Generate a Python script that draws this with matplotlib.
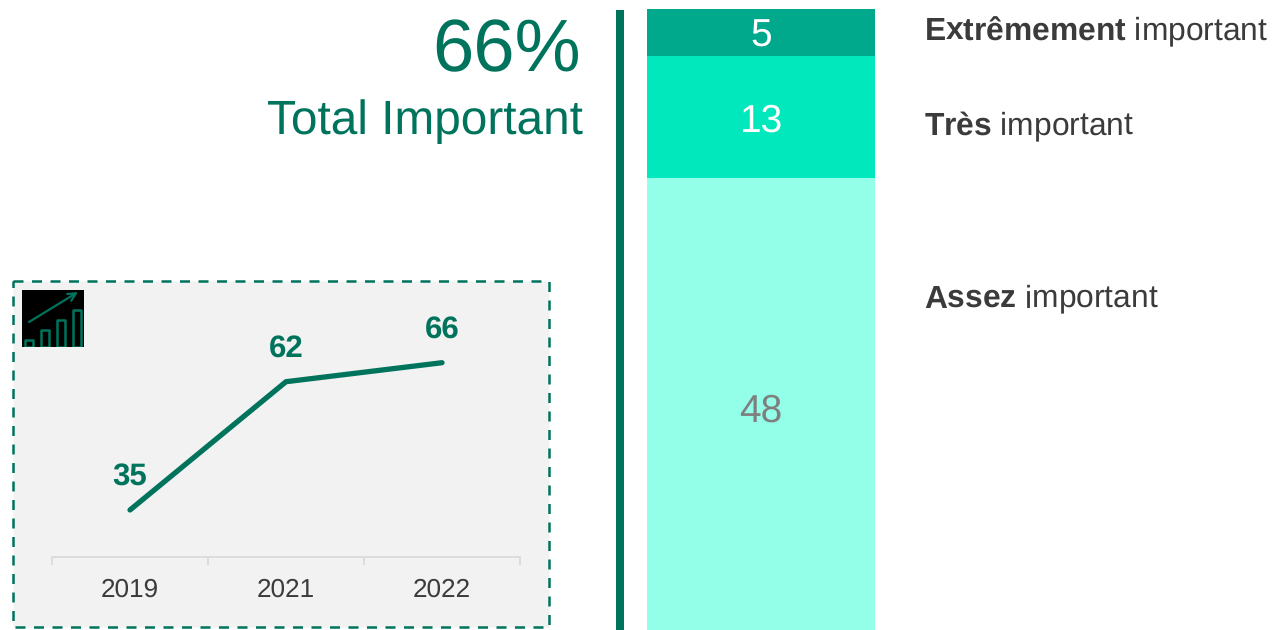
import matplotlib
matplotlib.use('Agg')
import matplotlib.pyplot as plt
from matplotlib.patches import Rectangle

plt.rcParams['font.family'] = 'Liberation Sans'
plt.rcParams['text.hinting'] = 'none'
# bold run inside a label shares its baseline through mathtext
plt.rcParams['mathtext.fontset'] = 'custom'
plt.rcParams['mathtext.bf'] = 'Liberation Sans:bold'
plt.rcParams['mathtext.rm'] = 'Liberation Sans'

W, H = 1276, 630
GREEN = '#00735C'
DARK = '#3B3B3B'

years = ['2019', '2021', '2022']
trend = [35, 62, 66]

levels = ['Assez', 'Très', 'Extrêmement']
level_values = [48, 13, 5]
level_colors = ['#93FFE8', '#00E8BC', '#00A88C']
level_text_colors = ['#7F7F7F', 'white', 'white']
level_label_y = [307, 135, 40]
level_text_shift = [-0.3, 0, 0]

icon_bars = [0.7, 1.7, 2.7, 3.7]


# axes from pixel box, y counted from the top
def px_axes(fig, x0, y0, x1, y1, **kw):
    return fig.add_axes([x0 / W, 1 - y1 / H, (x1 - x0) / W, (y1 - y0) / H], **kw)


fig = plt.figure(figsize=(W / 100, H / 100), dpi=100)
bg = px_axes(fig, 0, 0, W, H)
bg.set_xlim(0, W)
bg.set_ylim(H, 0)
bg.axis('off')

# headline
bg.text(581, 71, '66%', fontsize=53.5, color=GREEN, ha='right', va='baseline')
bg.text(583, 134, 'Total Important', fontsize=34.4, color=GREEN, ha='right', va='baseline')

# dashed panel and divider
bg.add_patch(Rectangle((13, 281), 536, 346, facecolor='#F2F2F2', edgecolor=GREEN,
                       lw=1.8, linestyle=(0, (4, 3.4))))
bg.add_patch(Rectangle((616, 10), 8, 620, facecolor=GREEN, edgecolor='none'))

# trend line
ax = px_axes(fig, 52, 300, 520, 557)
ax.patch.set_alpha(0)
x = list(range(len(years)))
ax.plot(x, trend, color=GREEN, lw=3.8, solid_capstyle='round', solid_joinstyle='miter')
ax.set_xlim(-0.5, 2.5)
ax.set_ylim(25.1, 79.2)
for i, v in zip(x, trend):
    ax.annotate(str(v), (i, v), xytext=(0, 13.5), textcoords='offset points', ha='center',
                va='bottom', fontsize=22.5, fontweight='bold', color=GREEN)
for side in ['top', 'left', 'right']:
    ax.spines[side].set_visible(False)
ax.spines['bottom'].set_color('#DCDCDC')
ax.spines['bottom'].set_linewidth(1.4)
ax.set_yticks([])
ax.set_xticks([-0.5, 0.5, 1.5, 2.5])
ax.set_xticklabels([])
ax.tick_params(axis='x', direction='out', length=6, width=1.4, color='#DCDCDC')
ax.set_xticks(x, minor=True)
ax.set_xticklabels(years, minor=True, fontsize=18.8, color=DARK)
ax.tick_params(axis='x', which='minor', length=0, pad=15)

# little growth icon
icon = px_axes(fig, 22, 290, 84, 347)
icon.set_facecolor('black')
icon.bar([i + 0.44 for i in range(len(icon_bars))], icon_bars, width=0.5, facecolor='none',
         edgecolor=GREEN, lw=1.8, joinstyle='round')
icon.annotate('', xy=(3.5, 5.5), xytext=(0.44, 2.5),
              arrowprops=dict(arrowstyle='->', color=GREEN, lw=1.6, mutation_scale=14,
                              shrinkA=0, shrinkB=0))
icon.set_xlim(0, 3.875)
icon.set_ylim(0, 5.7)
icon.set_xticks([])
icon.set_yticks([])
for s in icon.spines.values():
    s.set_visible(False)

# stacked column
bar = px_axes(fig, 647, 9, 875, 630)
bar.axis('off')
bottom = 0
for v, c, tc, dy in zip(level_values, level_colors, level_text_colors, level_text_shift):
    bar.bar(0, v, bottom=bottom, width=1, color=c)
    bar.text(0, bottom + v / 2 + dy, str(v), ha='center', va='center_baseline', fontsize=28, color=tc)
    bottom += v
bar.set_xlim(-0.5, 0.5)
bar.set_ylim(0, sum(level_values))

# level labels, bold part then regular part
for name, y in zip(levels, level_label_y):
    bg.text(924, y, '$\\mathbf{' + name + '}$ important', fontsize=22.9, color=DARK, va='baseline')

fig.savefig('out.png', dpi=100)
